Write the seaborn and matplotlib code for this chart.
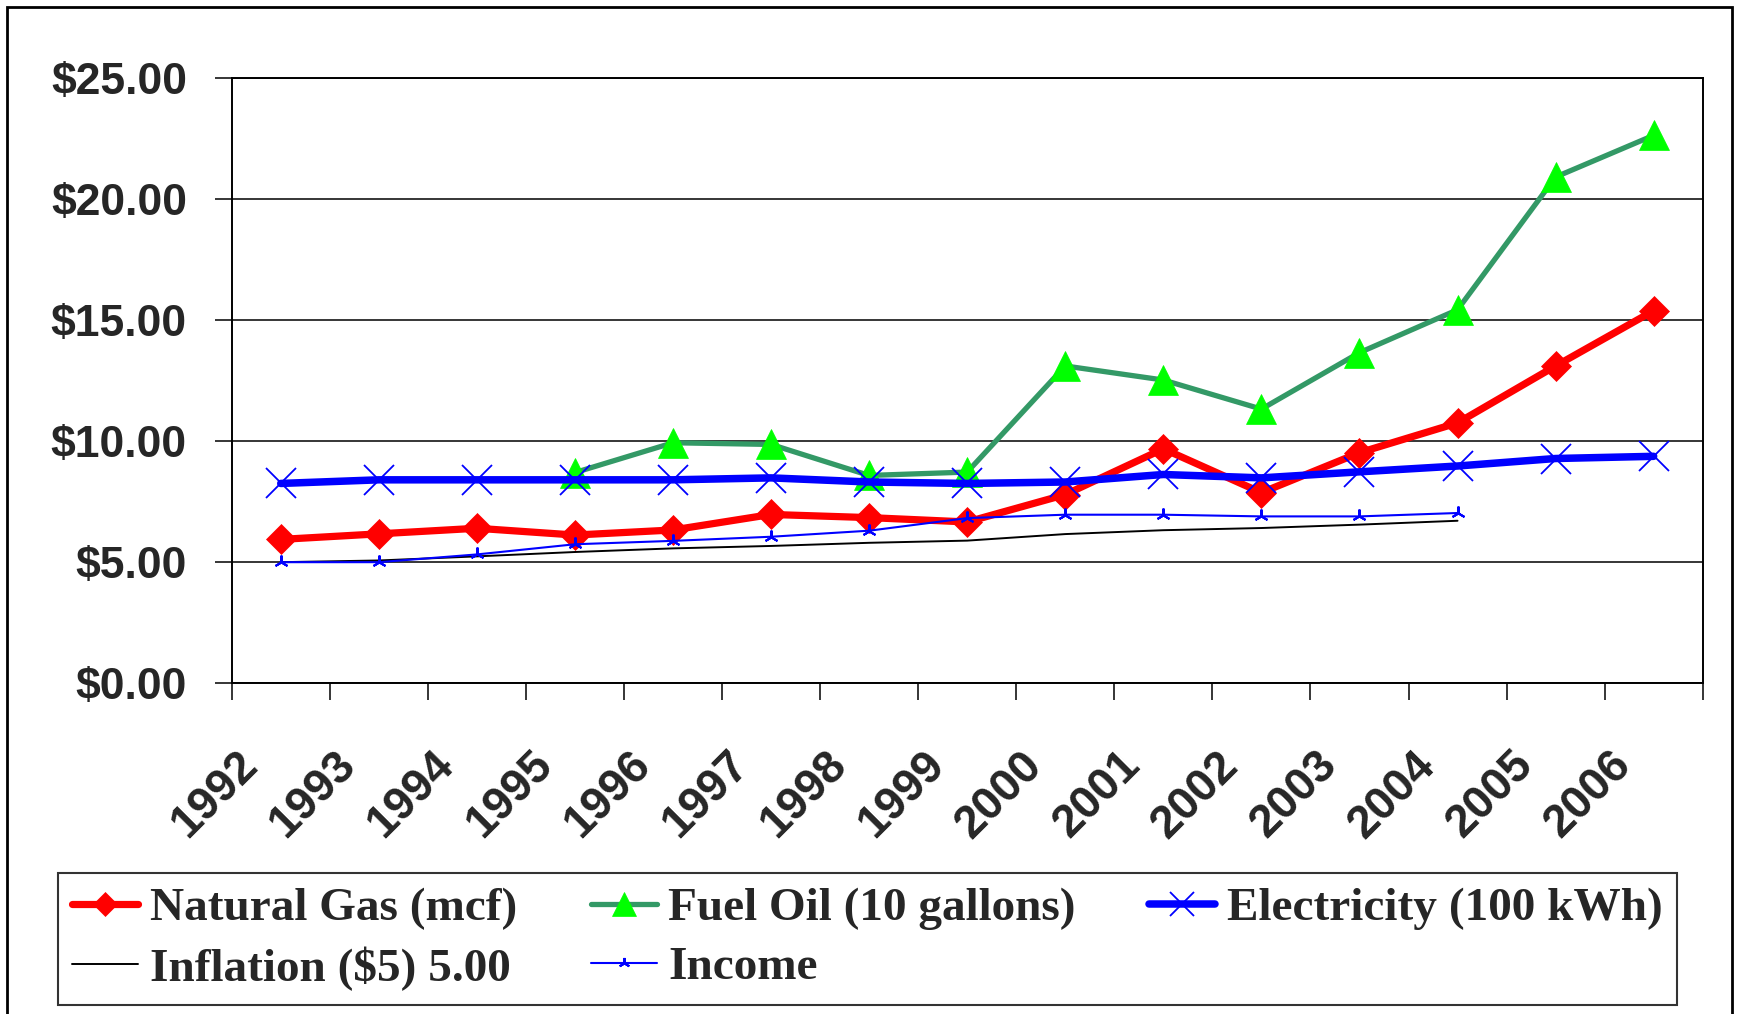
import numpy as np
import pandas as pd
import matplotlib
matplotlib.use("Agg")
import matplotlib.pyplot as plt
import matplotlib.transforms as mtransforms
from matplotlib.patches import Rectangle
import seaborn as sns

# --- data ---
years = list(range(1992, 2007))
natural_gas = [5.94, 6.17, 6.40, 6.12, 6.33, 6.97, 6.84, 6.66, 7.79, 9.68,
               7.87, 9.52, 10.75, 13.10, 15.38]
fuel_oil = [np.nan, np.nan, np.nan, 8.70, 9.93, 9.86, 8.58, 8.72, 13.10, 12.52,
            11.32, 13.65, 15.42, 20.90, 22.62]
electricity = [8.25, 8.40, 8.40, 8.40, 8.40, 8.48, 8.31, 8.25, 8.31, 8.62,
               8.48, 8.73, 8.97, 9.28, 9.37]
inflation = [5.00, 5.07, 5.24, 5.42, 5.57, 5.67, 5.80, 5.89, 6.16, 6.32,
             6.41, 6.55, 6.71, np.nan, np.nan]
income = [5.00, 5.00, 5.32, 5.74, 5.88, 6.05, 6.30, 6.82, 6.96, 6.96,
          6.89, 6.89, 7.03, np.nan, np.nan]

y_ticks = [0, 5, 10, 15, 20, 25]

df = pd.DataFrame({"year": years, "gas": natural_gas, "oil": fuel_oil,
                   "elec": electricity, "infl": inflation, "inc": income})

sns.set_style("white")
plt.rcParams["font.family"] = ["Liberation Sans", "DejaVu Sans"]

fig = plt.figure(figsize=(17.37, 10.14), dpi=100)
ax = fig.add_axes([231.7 / 1737, 1 - 683.3 / 1014,
                   (1702.7 - 231.7) / 1737, (683.3 - 77.7) / 1014])

# series, drawn in the same order as the original
sns.lineplot(data=df, x="year", y="gas", ax=ax, color="#FF0000", linewidth=5.2,
             marker="D", markersize=15, markerfacecolor="#FF0000",
             markeredgecolor="#FF0000", markeredgewidth=0.5,
             label="Natural Gas (mcf)")
sns.lineplot(data=df, x="year", y="oil", ax=ax, color="#339966", linewidth=3.8,
             marker="^", markersize=22, markerfacecolor="#00FF00",
             markeredgecolor="#00FF00", markeredgewidth=0.5,
             label="Fuel Oil (10 gallons)")
sns.lineplot(data=df, x="year", y="elec", ax=ax, color="#0000FF", linewidth=5.4,
             marker="x", markersize=21, markeredgecolor="#0000FF",
             markeredgewidth=1.3, label="Electricity (100 kWh)")
sns.lineplot(data=df, x="year", y="infl", ax=ax, color="black", linewidth=1.4,
             label="Inflation ($5) 5.00")
sns.lineplot(data=df, x="year", y="inc", ax=ax, color="#0000FF", linewidth=1.5,
             marker=(3, 2, 0), markersize=10, markeredgecolor="#0000FF",
             markeredgewidth=1.5, label="Income")

# axes
ax.set_xlim(years[0] - 0.5, years[-1] + 0.5)
ax.set_ylim(0, 25)
ax.set_yticks(y_ticks)
ax.set_yticklabels(["${:.2f}".format(v) for v in y_ticks],
                   fontsize=32, fontweight="bold")
ax.tick_params(axis="y", direction="out", length=12.2, width=1.3, pad=20,
               left=True)
ax.set_xticks(years)
ax.set_xticklabels([str(y) for y in years], fontsize=33, fontweight="bold",
                   rotation=45, ha="right", va="top")
ax.set_xticks([y - 0.5 for y in years] + [years[-1] + 0.5], minor=True)
ax.tick_params(axis="x", which="major", length=0, pad=43)
ax.tick_params(axis="x", which="minor", direction="out", length=12.2,
               width=1.3, bottom=True)
offset = mtransforms.ScaledTranslation(-0.14, 0, fig.dpi_scale_trans)
for lab in ax.get_xticklabels():
    lab.set_transform(lab.get_transform() + offset)

ax.set_xlabel("")
ax.set_ylabel("")
ax.yaxis.grid(True, color="black", linewidth=1.1)
ax.xaxis.grid(False)
for side in ["left", "bottom", "right", "top"]:
    ax.spines[side].set_visible(True)
    ax.spines[side].set_color("black")
    ax.spines[side].set_linewidth(1.4)

# legend laid out row by row like the original
handles, labels = ax.get_legend_handles_labels()
order = [0, 3, 1, 4, 2]
leg = ax.legend([handles[i] for i in order], [labels[i] for i in order],
                ncol=3, loc="upper left",
                bbox_to_anchor=(58 / 1737, 1 - 873 / 1014),
                bbox_transform=fig.transFigure,
                prop={"family": "Liberation Serif", "weight": "bold", "size": 34},
                frameon=True, fancybox=False, edgecolor="black",
                handlelength=1.4, handletextpad=0.25, columnspacing=1.55,
                labelspacing=0.34, borderpad=0.3, borderaxespad=0,
                markerscale=0.8)
leg.get_frame().set_linewidth(1.5)

# outer border of the chart
fig.patches.append(Rectangle((7 / 1737, -0.05), (1732 - 7) / 1737,
                             1.05 - 7 / 1014, transform=fig.transFigure,
                             fill=False, edgecolor="black", linewidth=2))

fig.savefig("out.png", dpi=100)
